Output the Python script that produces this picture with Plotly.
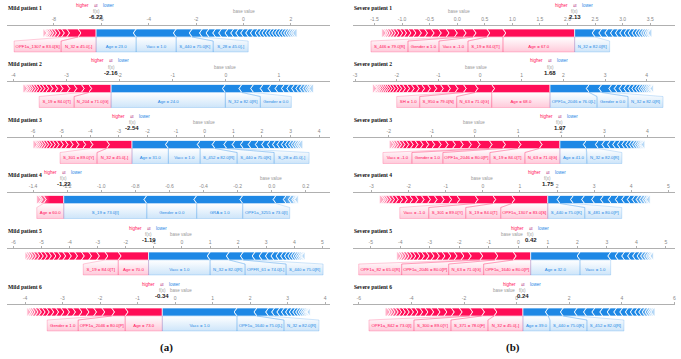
import plotly.graph_objects as go

# ---------------- data ----------------
TITLES = ["Mild patient 1", "Mild patient 2", "Mild patient 3", "Mild patient 4", "Mild patient 5", "Mild patient 6",
          "Severe patient 1", "Severe patient 2", "Severe patient 3", "Severe patient 4", "Severe patient 5", "Severe patient 6"]
FX = [-6.22, -2.16, -2.54, -1.22, -1.19, -0.34, 2.13, 1.68, 1.97, 1.75, 0.42, 0.24]

TICKS = [
    [-8, -6, -4, -2, 0, 2],
    [-4, -3, -2, -1, 0, 1],
    [-6, -5, -4, -3, -2, -1, 0, 1, 2, 3, 4],
    [-1.4, -1.2, -1.0, -0.8, -0.6, -0.4, -0.2, 0.0, 0.2],
    [-6, -5, -4, -3, -2, -1, 0, 1, 2, 3, 4, 5],
    [-4, -3, -2, -1, 0, 1, 2, 3, 4],
    [-1.5, -1.0, -0.5, 0.0, 0.5, 1.0, 1.5, 2.0, 2.5, 3.0, 3.5],
    [-3, -2, -1, 0, 1, 2, 3, 4],
    [-2, -1, 0, 1, 2, 3, 4],
    [-3, -2, -1, 0, 1, 2, 3, 4, 5],
    [-5, -4, -3, -2, -1, 0, 1, 2, 3, 4, 5],
    [-6, -4, -2, 0, 2, 4, 6],
]
TICK_DECIMALS = [0, 0, 0, 1, 0, 0, 1, 0, 0, 0, 0, 0]

# contributions pushing higher (red) / lower (blue), ordered from f(x) outward
M1_RED = [0.76, 0.48, 0.22, 0.18, 0.15, 0.12, 0.1, 0.08, 0.06, 0.05, 0.04]
M1_RED_LABELS = ["N_32 = 45.0[-]", "OPF1a_1307 = 83.0[S]"]
M1_BLUE = [1.69, 1.69, 0.67, 0.43, 0.28, 0.28, 0.25, 0.27, 0.24, 0.21, 0.21, 0.21, 0.2, 0.2, 0.15, 0.14,
           0.14, 0.14, 0.13, 0.13, 0.13, 0.12, 0.12, 0.11, 0.1, 0.09, 0.08, 0.07]
M1_BLUE_LABELS = ["Age = 23.0", "Vacc = 1.0", "S_440 = 75.0[K]", "S_28 = 45.0[-]"]

M2_RED = [0.42, 0.14, 0.14, 0.13, 0.13, 0.1, 0.09, 0.08, 0.07, 0.06, 0.06, 0.05, 0.05, 0.04, 0.04, 0.03, 0.03]
M2_RED_LABELS = ["N_204 = 71.0[G]", "S_19 = 84.0[T]"]
M2_BLUE = [2.15, 0.31, 0.22, 0.18, 0.15, 0.13, 0.12, 0.1, 0.09, 0.08, 0.07, 0.06, 0.05, 0.04, 0.03, 0.03]
M2_BLUE_LABELS = ["Age = 24.0", "N_32 = 82.0[R]", "Gender = 0.0"]

M3_RED = [0.89, 0.58, 0.25, 0.24, 0.2, 0.18, 0.16, 0.15, 0.13, 0.12, 0.11, 0.1, 0.09, 0.08, 0.07, 0.06, 0.05]
M3_RED_LABELS = ["N_32 = 45.0[-]", "S_301 = 89.0[Y]"]
M3_BLUE = [1.27, 1.11, 0.52, 0.41, 0.29, 0.29, 0.27, 0.25, 0.22, 0.2, 0.18, 0.16, 0.15, 0.13, 0.12, 0.1,
           0.09, 0.08, 0.07, 0.06]
M3_BLUE_LABELS = ["Age = 31.0", "Vacc = 1.0", "S_452 = 82.0[R]", "S_440 = 75.0[K]", "S_28 = 45.0[-]"]

M4_RED = [0.12, 0.02, 0.01, 0.01]
M4_RED_LABELS = ["Age = 60.0"]
M4_BLUE = [0.487, 0.293, 0.27, 0.195, 0.06, 0.03, 0.02, 0.01, 0.006, 0.005]
M4_BLUE_LABELS = ["S_19 = 73.0[I]", "Gender = 0.0", "GRA = 1.0", "OPF1a_3255 = 73.0[I]"]

M5_RED = [1.08, 0.47, 0.3, 0.28, 0.26, 0.24, 0.22, 0.2, 0.18, 0.17, 0.16, 0.15, 0.14, 0.13, 0.12, 0.1,
          0.09, 0.08, 0.03]
M5_RED_LABELS = ["Age = 70.0", "S_19 = 84.0[T]"]
M5_BLUE = [2.19, 0.68, 0.5, 0.42, 0.25, 0.22, 0.2, 0.18, 0.16, 0.14, 0.12, 0.1, 0.09, 0.08, 0.07, 0.06,
           0.05, 0.04, 0.02]
M5_BLUE_LABELS = ["Vacc = 1.0", "N_32 = 82.0[R]", "OPFR_61 = 74.0[L]", "S_440 = 75.0[R]"]

M6_RED = [0.99, 0.36, 0.26, 0.22, 0.2, 0.19, 0.17, 0.16, 0.15, 0.14, 0.13, 0.12, 0.11, 0.1, 0.09, 0.08,
          0.06, 0.05, 0.03]
M6_RED_LABELS = ["Age = 73.0", "OPF1a_2046 = 80.0[P]", "Gender = 1.0"]
M6_BLUE = [1.99, 0.53, 0.31, 0.16, 0.14, 0.12, 0.11, 0.1, 0.09, 0.08, 0.07, 0.06, 0.05, 0.04, 0.03, 0.03,
           0.02, 0.01]
M6_BLUE_LABELS = ["Vacc = 1.0", "OPF1a_1640 = 75.0[L]", "N_32 = 82.0[R]"]

S1_RED = [1.3, 0.29, 0.25, 0.18, 0.16, 0.15, 0.14, 0.13, 0.12, 0.11, 0.1, 0.09, 0.08, 0.07, 0.07, 0.06,
          0.05, 0.05, 0.04, 0.03, 0.03]
S1_RED_LABELS = ["Age = 67.0", "S_19 = 84.0[T]", "Vacc = -1.0", "Gender = 1.0", "S_446 = 79.0[R]"]
S1_BLUE = [0.37, 0.12, 0.11, 0.1, 0.09, 0.08, 0.08, 0.07, 0.07, 0.06, 0.05, 0.05, 0.04, 0.04, 0.03, 0.02, 0.02]
S1_BLUE_LABELS = ["N_32 = 82.0[R]"]

S2_RED = [1.4, 0.4, 0.28, 0.2, 0.18, 0.17, 0.16, 0.15, 0.14, 0.13, 0.12, 0.11, 0.1, 0.09, 0.08, 0.08,
          0.07, 0.06, 0.05, 0.05, 0.05, 0.05, 0.04, 0.04, 0.03, 0.03]
S2_RED_LABELS = ["Age = 68.0", "N_63 = 71.0[G]", "S_950 = 79.0[N]", "SH = 1.0"]
S2_BLUE = [0.94, 0.3, 0.24, 0.13, 0.12, 0.11, 0.1, 0.09, 0.08, 0.07, 0.06, 0.05, 0.05, 0.04, 0.04, 0.03, 0.02, 0.01]
S2_BLUE_LABELS = ["OPF1a_2046 = 76.0[L]", "Gender = 0.0", "N_32 = 82.0[R]"]

S3_RED = [0.48, 0.49, 0.36, 0.31, 0.28, 0.2, 0.19, 0.18, 0.17, 0.16, 0.15, 0.14, 0.13, 0.12, 0.11, 0.1,
          0.09, 0.08, 0.07, 0.06, 0.05, 0.04]
S3_RED_LABELS = ["N_63 = 71.0[G]", "S_19 = 84.0[T]", "OPF1a_2046 = 80.0[P]", "Gender = 1.0", "Vacc = -1.0"]
S3_BLUE = [0.61, 0.28, 0.15, 0.13, 0.12, 0.11, 0.1, 0.09, 0.08, 0.07, 0.06, 0.05, 0.04, 0.03, 0.03, 0.02]
S3_BLUE_LABELS = ["Age = 41.0", "N_32 = 82.0[R]"]

S4_RED = [0.97, 0.51, 0.48, 0.49, 0.22, 0.2, 0.19, 0.18, 0.17, 0.16, 0.15, 0.14, 0.13, 0.12, 0.1, 0.09,
          0.08, 0.06, 0.05, 0.05]
S4_RED_LABELS = ["OPF1a_1307 = 83.0[S]", "S_19 = 84.0[T]", "S_301 = 89.0[Y]", "Vacc = -1.0"]
S4_BLUE = [0.33, 0.36, 0.3, 0.27, 0.24, 0.21, 0.19, 0.17, 0.15, 0.13, 0.11, 0.09, 0.08, 0.06, 0.04, 0.03]
S4_BLUE_LABELS = ["S_440 = 75.0[K]", "S_481 = 80.0[P]"]

S5_RED = [0.59, 0.62, 0.51, 0.39, 0.25, 0.23, 0.21, 0.2, 0.19, 0.18, 0.17, 0.16, 0.15, 0.14, 0.12, 0.11,
          0.1, 0.09, 0.08, 0.05]
S5_RED_LABELS = ["OPF1a_1640 = 80.0[P]", "N_63 = 71.0[G]", "OPF1a_2046 = 80.0[P]", "OPF1a_82 = 65.0[R]"]
S5_BLUE = [1.67, 1.04, 0.25, 0.22, 0.2, 0.17, 0.15, 0.12, 0.1, 0.08, 0.06, 0.05, 0.03, 0.02]
S5_BLUE_LABELS = ["Age = 32.0", "Vacc = 1.0"]

S6_RED = [1.1, 0.47, 0.45, 0.4, 0.3, 0.28, 0.26, 0.24, 0.22, 0.2, 0.18, 0.17, 0.16, 0.15, 0.14, 0.13,
          0.12, 0.1, 0.09, 0.08]
S6_RED_LABELS = ["N_32 = 45.0[-]", "S_371 = 78.0[F]", "S_300 = 89.0[Y]", "OPF1a_842 = 73.0[I]"]
S6_BLUE = [0.96, 0.57, 0.53, 0.35, 0.32, 0.3, 0.28, 0.25, 0.23, 0.21, 0.19, 0.17, 0.15, 0.13, 0.11, 0.09,
           0.07, 0.06, 0.05]
S6_BLUE_LABELS = ["Age = 39.0", "S_440 = 75.0[K]", "S_452 = 82.0[R]"]

RED_VALUES = [M1_RED, M2_RED, M3_RED, M4_RED, M5_RED, M6_RED, S1_RED, S2_RED, S3_RED, S4_RED, S5_RED, S6_RED]
RED_LABELS = [M1_RED_LABELS, M2_RED_LABELS, M3_RED_LABELS, M4_RED_LABELS, M5_RED_LABELS, M6_RED_LABELS,
              S1_RED_LABELS, S2_RED_LABELS, S3_RED_LABELS, S4_RED_LABELS, S5_RED_LABELS, S6_RED_LABELS]
BLUE_VALUES = [M1_BLUE, M2_BLUE, M3_BLUE, M4_BLUE, M5_BLUE, M6_BLUE, S1_BLUE, S2_BLUE, S3_BLUE, S4_BLUE, S5_BLUE, S6_BLUE]
BLUE_LABELS = [M1_BLUE_LABELS, M2_BLUE_LABELS, M3_BLUE_LABELS, M4_BLUE_LABELS, M5_BLUE_LABELS, M6_BLUE_LABELS,
               S1_BLUE_LABELS, S2_BLUE_LABELS, S3_BLUE_LABELS, S4_BLUE_LABELS, S5_BLUE_LABELS, S6_BLUE_LABELS]

# ---------------- layout / style ----------------
W, H = 681, 359
RED = "#ff0d57"
BLUE = "#1e88e5"
COL_X = [(7, 330), (353, 675)]
ROW_Y = [26, 81.5, 137.5, 192.5, 249, 305]
AX_RANGES = [[-9.98, 3.65], [-4.12, 1.96], [-6.91, 4.38], [-1.553, 0.342], [-6.23, 5.27], [-4.48, 4.13],
             [-1.89, 3.95], [-3.05, 4.68], [-2.83, 4.64], [-3.5, 5.18], [-5.6, 5.31], [-6.22, 6.02]]
PLOT_H = 28
BAR_T, BAR_M, BAR_B = 3, 7, 11
BOX_T, BOX_B, TXT_Y = 15, 26, 20.5
SANS = "Liberation Sans"
SERIF = "Liberation Serif"


def text_px(s):
    return len(s) * 2.0 + 7


def py(y):
    return 1 - y / H


fig = go.Figure()
annotations = []
layout_axes = {}

for i in range(12):
    col, row = divmod(i, 6)
    x0p, x1p = COL_X[col]
    r0, r1 = AX_RANGES[i]
    pxu = (x1p - x0p) / (r1 - r0)
    tip = 2.8 / pxu
    ay = ROW_Y[row]
    xa = "x" if i == 0 else f"x{i + 1}"
    ya = "y" if i == 0 else f"y{i + 1}"
    fx = FX[i]
    reds = RED_VALUES[i]
    blues = BLUE_VALUES[i]
    base = fx - sum(reds) + sum(blues)

    def seg_trace(xs, ys, color):
        return go.Scatter(x=xs, y=ys, mode="lines", fill="toself", fillcolor=color,
                          line=dict(color="white", width=0.7), hoverinfo="skip", xaxis=xa, yaxis=ya)

    # ---- bar segments ----
    red_segs, xs, ys = [], [], []
    pos = fx
    for k, v in enumerate(reds):
        right, left = pos, pos - v
        tr = tip if k > 0 else 0
        tl = tip if k < len(reds) - 1 else 0
        xs += [left, right, right + tr, right, left, left + tl, left, None]
        ys += [BAR_T, BAR_T, BAR_M, BAR_B, BAR_B, BAR_M, BAR_T, None]
        red_segs.append((left, right))
        pos = left
    red_end = pos
    fig.add_trace(seg_trace(xs, ys, RED))

    blue_segs, xs, ys = [], [], []
    pos = fx
    for k, v in enumerate(blues):
        left, right = pos, pos + v
        tl = tip if k > 0 else 0
        tr = tip if k < len(blues) - 1 else 0
        xs += [left, right, right - tr, right, left, left - tl, left, None]
        ys += [BAR_T, BAR_T, BAR_M, BAR_B, BAR_B, BAR_M, BAR_T, None]
        blue_segs.append((left, right))
        pos = right
    blue_end = pos
    fig.add_trace(seg_trace(xs, ys, BLUE))

    # ---- faded tails ----
    fw_r = min(16 / pxu, 0.5 * sum(reds))
    fig.add_trace(go.Scatter(
        x=[red_end - 1 / pxu, red_end + fw_r, red_end + fw_r, red_end - 1 / pxu, red_end - 1 / pxu],
        y=[BAR_T - 0.5, BAR_T - 0.5, BAR_B + 0.5, BAR_B + 0.5, BAR_T - 0.5],
        mode="lines", fill="toself", line=dict(width=0),
        fillgradient=dict(type="horizontal",
                          colorscale=[[0, "rgba(255,255,255,0.8)"], [1, "rgba(255,255,255,0)"]]),
        hoverinfo="skip", xaxis=xa, yaxis=ya))
    fw_b = min(16 / pxu, 0.5 * sum(blues))
    fig.add_trace(go.Scatter(
        x=[blue_end - fw_b, blue_end + 1 / pxu, blue_end + 1 / pxu, blue_end - fw_b, blue_end - fw_b],
        y=[BAR_T - 0.5, BAR_T - 0.5, BAR_B + 0.5, BAR_B + 0.5, BAR_T - 0.5],
        mode="lines", fill="toself", line=dict(width=0),
        fillgradient=dict(type="horizontal",
                          colorscale=[[0, "rgba(255,255,255,0)"], [1, "rgba(255,255,255,0.8)"]]),
        hoverinfo="skip", xaxis=xa, yaxis=ya))

    # ---- label boxes ----
    for side, segs, labels, color, rgb in (("red", red_segs, RED_LABELS[i], RED, "255,13,87"),
                                           ("blue", blue_segs, BLUE_LABELS[i], BLUE, "30,136,229")):
        prev = fx
        pxs, pys, tx, tt = [], [], [], []
        for k, lab in enumerate(labels):
            a, b = segs[k]
            w = max(b - a, text_px(lab) / pxu)
            if side == "red":
                br = min(b, prev)
                bl = br - w
                prev = bl
            else:
                bl = max(a, prev)
                br = bl + w
                prev = br
            pxs += [a, b, br, br, bl, bl, a, None]
            pys += [BAR_B, BAR_B, BOX_T, BOX_B, BOX_B, BOX_T, BAR_B, None]
            tx.append((bl + br) / 2)
            tt.append(lab)
        fig.add_trace(go.Scatter(
            x=pxs, y=pys, mode="lines", fill="toself",
            line=dict(color=f"rgba({rgb},0.35)", width=0.6),
            fillgradient=dict(type="vertical",
                              colorscale=[[0, f"rgba({rgb},0.22)"], [1, f"rgba({rgb},0.0)"]]),
            hoverinfo="skip", xaxis=xa, yaxis=ya))
        fig.add_trace(go.Scatter(
            x=tx, y=[TXT_Y] * len(tx), mode="text", text=tt, textposition="middle center",
            textfont=dict(family=SANS, size=4.3, color=color), hoverinfo="skip", xaxis=xa, yaxis=ya))

    # ---- axes ----
    dec = TICK_DECIMALS[i]
    layout_axes["xaxis" if i == 0 else f"xaxis{i + 1}"] = dict(
        domain=[x0p / W, x1p / W], range=[r0, r1], anchor=ya, side="top",
        showline=True, linecolor="#b0b0b0", linewidth=1, ticks="outside", ticklen=2, tickcolor="#b0b0b0",
        tickvals=TICKS[i], ticktext=[f"{t:.{dec}f}" for t in TICKS[i]],
        tickfont=dict(family=SANS, size=5, color="#888888"), showgrid=False, zeroline=False, fixedrange=True)
    layout_axes["yaxis" if i == 0 else f"yaxis{i + 1}"] = dict(
        domain=[py(ay + PLOT_H), py(ay)], range=[PLOT_H, 0], visible=False, fixedrange=True, anchor=xa)

    # ---- texts ----
    annotations.append(dict(x=(x0p - 1) / W, y=py(ay - 18), xref="paper", yref="paper",
                            text=f"<b>{TITLES[i]}</b>", showarrow=False, xanchor="left", yanchor="middle",
                            font=dict(family=SERIF, size=5.6, color="#111111")))
    annotations.append(dict(x=fx - 5 / pxu, y=py(ay - 20.5), xref=xa, yref="paper", text="higher",
                            showarrow=False, xanchor="right", yanchor="middle",
                            font=dict(family=SANS, size=4.5, color=RED)))
    annotations.append(dict(x=fx, y=py(ay - 20.5), xref=xa, yref="paper", text="⇄",
                            showarrow=False, xanchor="center", yanchor="middle",
                            font=dict(family="DejaVu Sans", size=4.5, color="#c05a9a")))
    annotations.append(dict(x=fx + 5 / pxu, y=py(ay - 20.5), xref=xa, yref="paper", text="lower",
                            showarrow=False, xanchor="left", yanchor="middle",
                            font=dict(family=SANS, size=4.5, color=BLUE)))
    annotations.append(dict(x=fx, y=py(ay - 14.5), xref=xa, yref="paper", text="f(x)",
                            showarrow=False, xanchor="center", yanchor="middle",
                            font=dict(family=SANS, size=4.5, color="#999999")))
    annotations.append(dict(x=fx, y=py(ay - 9), xref=xa, yref="paper", text=f"<b>{fx:.2f}</b>",
                            showarrow=False, xanchor="center", yanchor="middle",
                            font=dict(family=SANS, size=6, color="#222222")))
    if abs(base - fx) * pxu < 24:
        if base >= fx:
            bx, anc = fx + 6 / pxu, "left"
        else:
            bx, anc = fx - 6 / pxu, "right"
    else:
        bx, anc = base, "center"
    annotations.append(dict(x=bx, y=py(ay - 14.5), xref=xa, yref="paper", text="base value",
                            showarrow=False, xanchor=anc, yanchor="middle",
                            font=dict(family=SANS, size=4.5, color="#999999")))

annotations.append(dict(x=166 / W, y=py(347), xref="paper", yref="paper", text="<b>(a)</b>", showarrow=False,
                        xanchor="center", yanchor="middle", font=dict(family=SERIF, size=11, color="#111111")))
annotations.append(dict(x=513 / W, y=py(347), xref="paper", yref="paper", text="<b>(b)</b>", showarrow=False,
                        xanchor="center", yanchor="middle", font=dict(family=SERIF, size=11, color="#111111")))

fig.update_layout(width=W, height=H, margin=dict(l=0, r=0, t=0, b=0), paper_bgcolor="white",
                  plot_bgcolor="white", showlegend=False, annotations=annotations, **layout_axes)
fig.write_html("out.html", config={"displayModeBar": False},
               post_script="document.body.style.margin='0px';document.body.style.overflow='hidden';")
